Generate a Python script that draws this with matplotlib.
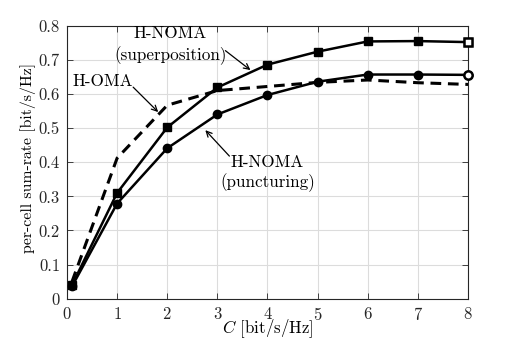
import matplotlib
matplotlib.use("Agg")
import matplotlib.pyplot as plt

C = [0.1, 1, 2, 3, 4, 5, 6, 7, 8]
superposition = [0.040, 0.310, 0.502, 0.619, 0.686, 0.724, 0.754, 0.755, 0.752]
puncturing = [0.036, 0.279, 0.441, 0.540, 0.597, 0.636, 0.657, 0.657, 0.656]
h_oma = [0.050, 0.412, 0.567, 0.610, 0.622, 0.634, 0.641, 0.633, 0.628]
xticks = [0, 1, 2, 3, 4, 5, 6, 7, 8]
yticks = [0, 0.1, 0.2, 0.3, 0.4, 0.5, 0.6, 0.7, 0.8]
ytick_labels = ['0', '0.1', '0.2', '0.3', '0.4', '0.5', '0.6', '0.7', '0.8']

plt.rcParams['font.family'] = ['cmr10', 'DejaVu Serif']
plt.rcParams['mathtext.fontset'] = 'cm'
plt.rcParams['axes.formatter.use_mathtext'] = True

fig = plt.figure(figsize=(5.18, 3.43), dpi=100)
ax = fig.add_axes([0.1293, 0.129, 0.7742, 0.796])

ax.plot(C, superposition, color='black', lw=1.8, marker='s', ms=5.5, zorder=3, clip_on=False)
ax.plot(C, puncturing, color='black', lw=1.8, marker='o', ms=6, zorder=3, clip_on=False)
ax.plot(C, h_oma, color='black', lw=2.2, ls=(0, (3.5, 2.2)), zorder=3)
# last markers appear hollow in the reference
ax.plot(C[-1:], superposition[-1:], ls='none', marker='s', ms=5.5, mfc='white', mec='black',
        mew=1.8, zorder=4, clip_on=False)
ax.plot(C[-1:], puncturing[-1:], ls='none', marker='o', ms=6, mfc='white', mec='black',
        mew=1.8, zorder=4, clip_on=False)

ax.set_xlim(0, 8)
ax.set_ylim(0, 0.8)
ax.set_xticks(xticks)
ax.set_yticks(yticks)
ax.set_yticklabels(ytick_labels)
ax.grid(True, color='#dcdcdc', lw=0.8)
ax.set_axisbelow(True)
ax.tick_params(direction='in', top=True, right=True, labelsize=12, length=4, width=0.6,
               colors='#262626', pad=5)
for s in ax.spines.values():
    s.set_linewidth(0.8)
    s.set_color('#262626')

ax.set_xlabel(r'$C$ [bit/s/Hz]', fontsize=12.2, va='center')
ax.xaxis.set_label_coords(0.5, -0.11)
ax.set_ylabel('per-cell sum-rate [bit/s/Hz]', fontsize=11.4, va='center')
ax.yaxis.set_label_coords(-0.097, 0.515)

arrow = dict(arrowstyle='->', color='black', lw=0.9, shrinkA=0, shrinkB=0)
fs = 12.3
# superposition label
ax.text(2.06, 0.778, 'H-NOMA', ha='center', va='center', fontsize=fs)
ax.text(2.06, 0.712, '(superposition)', ha='center', va='center', fontsize=fs)
ax.annotate('', xy=(3.66, 0.670), xytext=(3.16, 0.727), arrowprops=arrow)
# H-OMA label
ax.text(0.71, 0.638, 'H-OMA', ha='center', va='center', fontsize=fs)
ax.annotate('', xy=(1.82, 0.547), xytext=(1.32, 0.620), arrowprops=arrow)
# puncturing label
ax.text(4.0, 0.400, 'H-NOMA', ha='center', va='center', fontsize=fs)
ax.text(4.0, 0.339, '(puncturing)', ha='center', va='center', fontsize=fs)
ax.annotate('', xy=(2.76, 0.494), xytext=(3.24, 0.418), arrowprops=arrow)

fig.savefig('out.png', dpi=100)
